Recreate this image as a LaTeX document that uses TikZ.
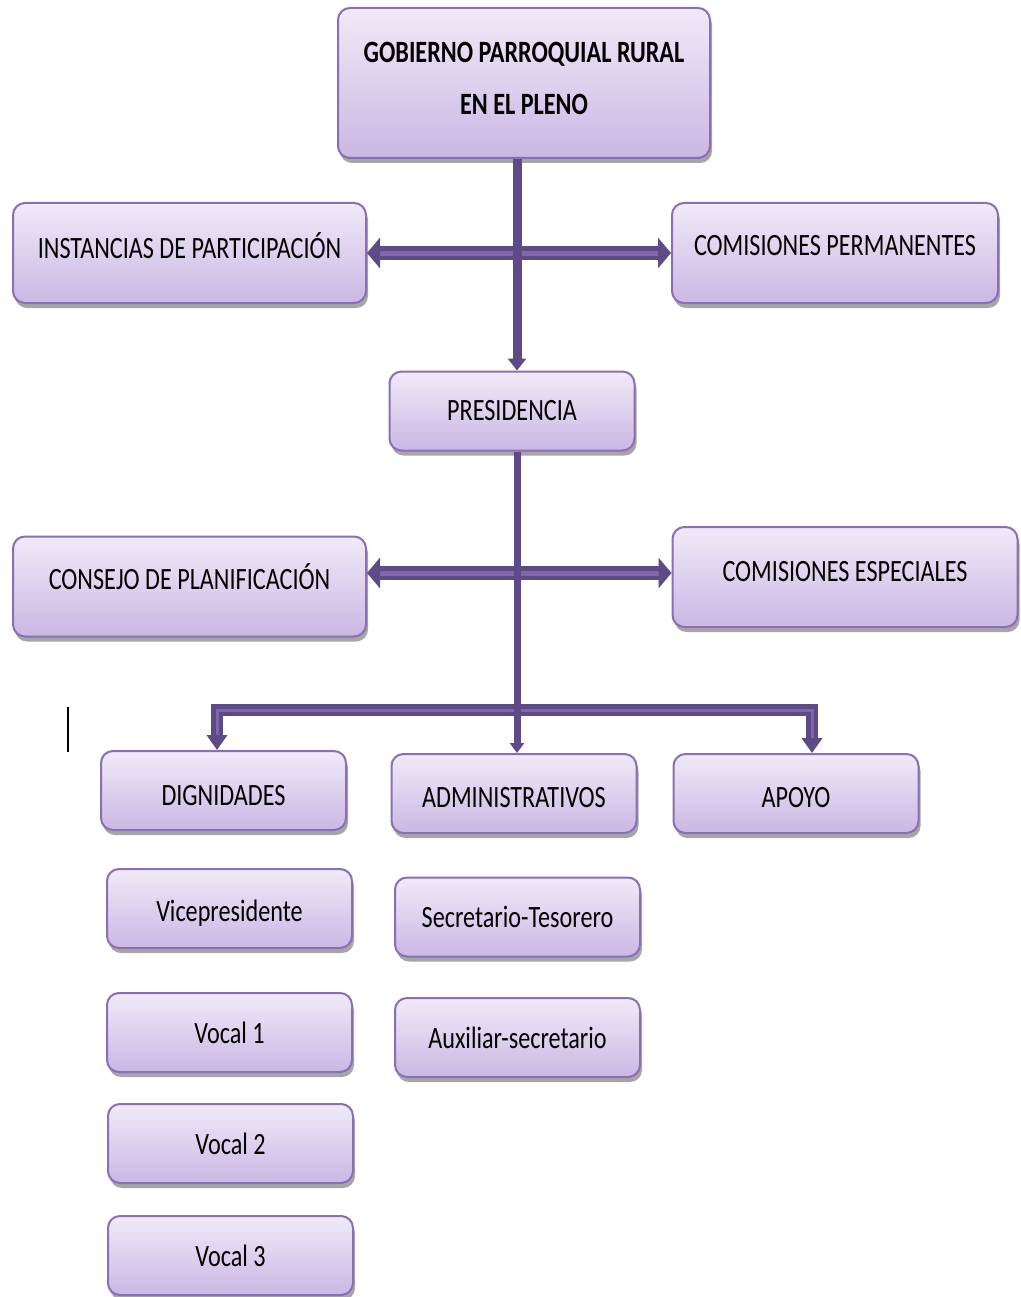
\documentclass[tikz,border=0pt]{standalone}
\usepackage{fontspec}
\setmainfont{Carlito}[FakeStretch=0.78]
\usepackage{tikz}
\usetikzlibrary{arrows.meta, shadows, calc}

\definecolor{lavtop}{HTML}{F0EAF8}
\definecolor{lavbot}{HTML}{CBB7E4}
\definecolor{lavline}{HTML}{8A6FB3}
\definecolor{arrdark}{HTML}{5D4A86}
\definecolor{arrlite}{HTML}{7E68AB}

\begin{document}
\begin{tikzpicture}[
    x=1pt, y=-1pt,
    unit/.style={rectangle, draw=lavline, line width=2pt, rounded corners=12pt,
        top color=lavtop, bottom color=lavbot, minimum width=245pt, minimum height=79pt,
        font=\fontsize{31}{52}\selectfont, align=center, inner sep=0pt,
        drop shadow={shadow xshift=2pt, shadow yshift=-5pt, opacity=0.35, fill=black}},
    wide/.style={unit, minimum height=100pt, text depth=15pt},
    spine/.style={draw=arrdark, line width=9pt, -{Triangle[width=18pt,length=12pt]}},
    bar/.style={draw=arrdark, line width=4.5pt, double=arrlite, double distance=5pt,
        {Triangle[width=30pt,length=13pt]}-{Triangle[width=30pt,length=13pt]}},
    drop/.style={draw=arrdark, line width=4.5pt, double=arrlite, double distance=3pt,
        {Triangle[width=20pt,length=15pt]}-{Triangle[width=20pt,length=15pt]}}
]
\useasboundingbox (0,0) rectangle (1020,1297);
\fill[white] (0,0) rectangle (1020,1297);

% upper levels
\node[unit, minimum width=372pt, minimum height=150pt, text depth=10pt,
      font=\bfseries\fontsize{31}{52}\selectfont] (gob) at (524,83) {GOBIERNO PARROQUIAL RURAL\\EN EL PLENO};
\node[wide, minimum width=353pt] (inst)  at (189.5,253) {INSTANCIAS DE PARTICIPACIÓN};
\node[wide, minimum width=326pt] (cperm) at (835,253)   {COMISIONES PERMANENTES};
\node[unit] (pres) at (512,411) {PRESIDENCIA};
\node[wide, minimum width=353pt, text depth=19pt] (consejo) at (189.5,586.5) {CONSEJO DE PLANIFICACIÓN};
\node[wide, minimum width=345pt, text depth=12pt] (cesp)    at (845,577)     {COMISIONES ESPECIALES};

% third level
\node[unit, text height=30pt] (dign)  at (223.5,790.5) {DIGNIDADES};
\node[unit, text height=29pt] (admin) at (514,793.5)   {ADMINISTRATIVOS};
\node[unit, text height=29pt] (apoyo) at (796,793.5)   {APOYO};

\node[unit, text height=30pt] (vice) at (229.5,908.5)  {Vicepresidente};
\node[unit] (voc1) at (229.5,1032.5) {Vocal 1};
\node[unit] (voc2) at (230.5,1143.5) {Vocal 2};
\node[unit] (voc3) at (230.5,1255.5) {Vocal 3};
\node[unit] (sect) at (517.5,917)    {Secretario-Tesorero};
\node[unit] (aux)  at (517.5,1037.5) {Auxiliar-secretario};

% connectors
\coordinate (axis) at (517,0);
\coordinate (row2) at (517,573);
\coordinate (busL) at (217,710);
\coordinate (busR) at (812,710);

\draw[bar] (inst.east) -- (cperm.west);
\draw[bar] (row2 -| consejo.east) -- (row2 -| cesp.west);
\draw[drop] (busL |- dign.north) -- (busL) -- (busR) -- (busR |- apoyo.north);

\draw[spine] (axis |- gob.south) -- (axis |- pres.north);
\draw[spine, -{Triangle[width=14pt,length=10pt]}, line width=7pt] (axis |- pres.south) -- (axis |- admin.north);

% stray cursor mark
\draw[black, line width=2pt] (68,707) -- (68,752);
\end{tikzpicture}
\end{document}
